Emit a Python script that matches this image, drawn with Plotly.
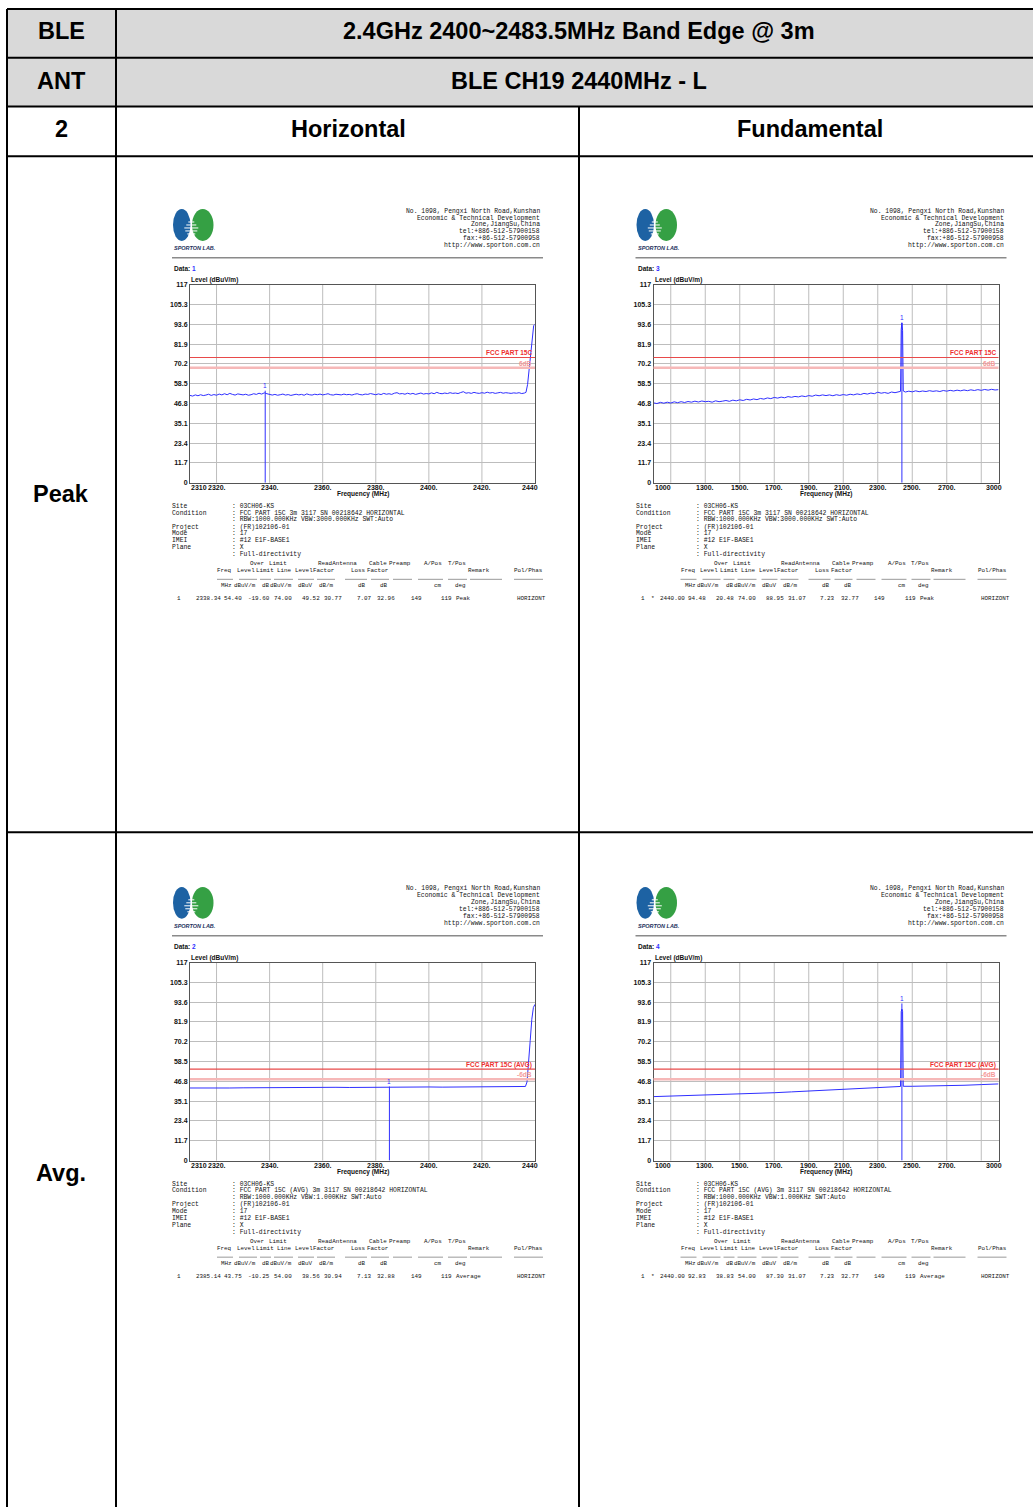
import plotly.graph_objects as go

W, H = 1033, 1510

# ---------------- table headings ----------------
band_title = "2.4GHz 2400~2483.5MHz Band Edge @ 3m"
channel_title = "BLE CH19 2440MHz - L"
corner_labels = ["BLE", "ANT", "2"]
column_titles = ["Horizontal", "Fundamental"]
row_titles = ["Peak", "Avg."]

# ---------------- axes ----------------
level_ticks = [0, 11.7, 23.4, 35.1, 46.8, 58.5, 70.2, 81.9, 93.6, 105.3, 117]
level_labels = ["0", "11.7", "23.4", "35.1", "46.8", "58.5", "70.2", "81.9", "93.6", "105.3", "117"]

edge_ticks = [2310, 2320, 2340, 2360, 2380, 2400, 2420, 2440]
edge_labels = ["2310", "2320.", "2340.", "2360.", "2380.", "2400.", "2420.", "2440"]
edge_grid = [2320, 2340, 2360, 2380, 2400, 2420]

fund_ticks = [1000, 1300, 1500, 1700, 1900, 2100, 2300, 2500, 2700, 3000]
fund_labels = ["1000", "1300.", "1500.", "1700.", "1900.", "2100.", "2300.", "2500.", "2700.", "3000"]
fund_grid = [1100, 1300, 1500, 1700, 1900, 2100, 2300, 2500, 2700, 2900]

# ---------------- traces ----------------
# Data 1 : band edge, peak
edge_peak_freq = list(range(2310, 2437)) + [2436.6, 2437.2, 2437.8, 2438.4, 2439.0, 2439.5, 2440.0]
edge_peak_level = [
    51.6, 51.2, 51.9, 51.4, 52.0, 51.5, 51.8, 52.3, 51.6, 52.1,
    51.7, 52.4, 51.9, 52.6, 52.0, 52.8, 52.2, 51.8, 52.5, 52.1,
    51.9, 52.3, 51.7, 52.0, 52.6, 52.2, 52.9, 52.4, 53.1, 52.6,
    52.3, 51.8, 52.2, 51.7, 52.0, 52.4, 51.8, 52.1, 51.6, 52.0,
    52.3, 51.9, 52.2, 51.7, 52.5, 52.0, 51.8, 52.3, 52.0, 52.4,
    51.9, 52.2, 52.6, 52.0, 51.8, 52.3, 52.1, 51.9, 52.4, 52.0,
    52.2, 51.8, 52.3, 52.6, 52.1, 51.9, 52.4, 52.2, 52.7, 52.3,
    52.0, 52.5, 52.1, 52.8, 52.3, 52.6, 52.2, 52.9, 53.2, 52.5,
    52.7, 52.3, 52.9, 52.4, 52.8, 52.2, 52.6, 53.0, 52.4, 52.7,
    52.5, 53.1, 52.6, 53.4, 52.8, 52.6, 53.0, 52.7, 53.2, 52.8,
    53.0, 52.7, 53.3, 53.8, 52.9, 53.2, 52.8, 53.4, 53.0, 52.8,
    53.2, 52.9, 53.5, 53.0, 53.3, 52.8, 53.1, 53.4, 52.9, 53.2,
    53.0, 52.8, 53.1, 52.9, 53.2, 52.7, 53.0,
    53.4, 58.0, 66.5, 76.0, 86.5, 92.8, 93.6,
]

# Data 2 : band edge, average
edge_avg_freq = list(range(2310, 2436, 5)) + [2436.4, 2437.0, 2437.6, 2438.2, 2438.8, 2439.4, 2440.0]
edge_avg_level = [
    42.9, 42.8, 43.0, 42.9, 43.0, 43.1, 43.0, 43.1, 43.2, 43.1,
    43.2, 43.3, 43.2, 43.3, 43.3, 43.4, 43.3, 43.4, 43.5, 43.4,
    43.5, 43.5, 43.6, 43.5, 43.6, 43.6,
    43.8, 46.5, 57.0, 71.0, 83.5, 90.5, 92.3,
]

# Data 3 : fundamental, peak
fund_peak_freq = list(range(1000, 2421, 20)) + [2432, 2436, 2440, 2444, 2448] + list(range(2460, 3001, 20))
fund_peak_level = [
    47.2, 46.8, 47.5, 47.0, 47.6, 47.1, 47.8, 47.3, 47.9, 47.4,
    48.0, 47.6, 48.2, 47.7, 48.3, 47.9, 48.1, 47.6, 48.4, 47.9,
    48.2, 48.6, 48.1, 48.8, 48.4, 49.0, 48.6, 49.3, 48.9, 49.5,
    49.1, 49.8, 49.4, 50.1, 49.7, 50.4, 50.0, 50.6, 50.2, 50.9,
    50.5, 51.0, 50.7, 51.3, 50.9, 51.5, 51.1, 51.8, 51.4, 51.9,
    51.5, 51.9, 51.4, 52.0, 51.6, 52.1, 51.7, 52.3, 51.9, 52.5,
    52.1, 52.8, 52.4, 53.0, 52.6, 53.5, 52.9, 53.3, 52.8, 53.6,
    53.2, 53.8,
    54.0, 90.5, 94.48, 90.0, 54.2,
    53.6, 54.1,
    53.7, 54.3, 53.8, 54.2, 53.9, 54.4, 54.0, 54.3, 53.9, 54.5,
    54.1, 54.6, 54.2, 54.7, 54.3, 54.8, 54.4, 54.9, 54.5, 55.0,
    54.6, 55.1, 54.7, 55.2, 54.8, 55.0,
]

# Data 4 : fundamental, average
fund_avg_freq = list(range(1000, 2401, 100)) + [2432, 2436, 2440, 2444, 2448] + list(range(2500, 3001, 100))
fund_avg_level = [
    37.8, 38.1, 38.3, 38.6, 38.8, 39.2, 39.6, 40.1, 40.6, 41.1, 41.5, 41.9, 42.4, 42.9, 43.5,
    43.8, 88.0, 89.5, 88.2, 43.9,
    43.9, 44.0, 44.2, 44.5, 44.9, 45.3,
]

# markers (freq, level)
marker_1 = (2338.34, 54.40)
marker_2 = (2385.14, 43.75)
marker_3 = (2440.00, 94.48)
marker_4 = (2440.00, 92.83)

peak_limit = 74.0
avg_limit = 54.0

# ---------------- report text ----------------
address_lines = [
    "No. 1098, Pengxi North Road,Kunshan",
    "Economic & Technical Development",
    "Zone,JiangSu,China",
    "tel:+886-512-57900158",
    "fax:+86-512-57900958",
    "http://www.sporton.com.cn",
]
info_labels = ["Site", "Condition", "", "Project", "Mode", "IMEI", "Plane", ""]
peak_info = [": 03CH06-KS", ": FCC PART 15C 3m 3117 SN 00218642 HORIZONTAL",
             ": RBW:1000.000KHz VBW:3000.000KHz SWT:Auto", ": (FR)102106-01",
             ": 17", ": #12 E1F-BASE1", ": X", ": Full-directivity"]
avg_info = [": 03CH06-KS", ": FCC PART 15C (AVG) 3m 3117 SN 00218642 HORIZONTAL",
            ": RBW:1000.000KHz VBW:1.000KHz SWT:Auto", ": (FR)102106-01",
            ": 17", ": #12 E1F-BASE1", ": X", ": Full-directivity"]
head_row1 = ["Over", "Limit", "ReadAntenna", "Cable", "Preamp", "A/Pos", "T/Pos"]
head_row2 = ["Freq", "Level", "Limit", "Line", "Level", "Factor", "Loss", "Factor", "Remark", "Pol/Phas"]
unit_row = ["MHz", "dBuV/m", "dB", "dBuV/m", "dBuV", "dB/m", "dB", "dB", "cm", "deg"]
result_1 = ["1", "", "2338.34", "54.40", "-19.60", "74.00", "49.52", "30.77", "7.07", "32.96", "149", "119", "Peak", "HORIZONT"]
result_2 = ["1", "", "2385.14", "43.75", "-10.25", "54.00", "38.56", "30.94", "7.13", "32.88", "149", "119", "Average", "HORIZONT"]
result_3 = ["1", "*", "2440.00", "94.48", "20.48", "74.00", "88.95", "31.07", "7.23", "32.77", "149", "119", "Peak", "HORIZONT"]
result_4 = ["1", "*", "2440.00", "92.83", "38.83", "54.00", "87.30", "31.07", "7.23", "32.77", "149", "119", "Average", "HORIZONT"]

# ---------------- styling ----------------
MONO = "Liberation Mono"
SANS = "Liberation Sans"
BLUE = "#2f2fff"
INK = "#111111"

fig = go.Figure()
shapes = []
notes = []


def px(x):
    return x / W


def py(y):
    return 1 - y / H


def text(x, y, s, size=6.4, color=INK, xanchor="left", family=MONO, bold=False):
    notes.append(dict(
        x=px(x), y=py(y), xref="paper", yref="paper", text=f"<b>{s}</b>" if bold else s,
        showarrow=False, xanchor=xanchor, yanchor="middle",
        font=dict(family=family, size=size, color=color), borderpad=0,
    ))


def hline(x0, x1, y, color="black", width=2):
    shapes.append(dict(type="line", xref="paper", yref="paper", x0=px(x0), x1=px(x1),
                       y0=py(y), y1=py(y), line=dict(color=color, width=width)))


def vline(x, y0, y1, color="black", width=2):
    shapes.append(dict(type="line", xref="paper", yref="paper", x0=px(x), x1=px(x),
                       y0=py(y0), y1=py(y1), line=dict(color=color, width=width)))


# ---------------- outer table ----------------
shapes.append(dict(type="rect", xref="paper", yref="paper", x0=px(7), x1=1, y0=py(103), y1=py(5),
                   fillcolor="#d9d9d9", line=dict(width=0), layer="below"))
for yy in [5, 54, 103, 153, 832]:
    hline(7, W, yy)
vline(7, 5, H)
vline(116, 5, H)
vline(579, 103, H)

TF = 23.5
for lab, yy in zip(corner_labels, [27.5, 77, 126]):
    text(61, yy, lab, size=TF, color="black", xanchor="center", family=SANS, bold=True)
text(579, 27.5, band_title, size=TF, color="black", xanchor="center", family=SANS, bold=True)
text(579, 77, channel_title, size=TF, color="black", xanchor="center", family=SANS, bold=True)
text(348, 126, column_titles[0], size=TF, color="black", xanchor="center", family=SANS, bold=True)
text(810, 126, column_titles[1], size=TF, color="black", xanchor="center", family=SANS, bold=True)
text(61, 492.5, row_titles[0], size=TF, color="black", xanchor="center", family=SANS, bold=True)
text(61, 1174, row_titles[1], size=TF, color="black", xanchor="center", family=SANS, bold=True)

# ---------------- the four scans ----------------
panels = [
    dict(dx=0, dy=0, freq=edge_peak_freq, level=edge_peak_level, rng=[2310, 2440],
         ticks=edge_ticks, labels=edge_labels, grid=edge_grid, no="1", marker=marker_1,
         limit=peak_limit, lname="FCC PART 15C", mname="6dB", info=peak_info, row=result_1),
    dict(dx=463.5, dy=0, freq=fund_peak_freq, level=fund_peak_level, rng=[1000, 3000],
         ticks=fund_ticks, labels=fund_labels, grid=fund_grid, no="3", marker=marker_3,
         limit=peak_limit, lname="FCC PART 15C", mname="6dB", info=peak_info, row=result_3),
    dict(dx=0, dy=681, freq=edge_avg_freq, level=edge_avg_level, rng=[2310, 2440],
         ticks=edge_ticks, labels=edge_labels, grid=edge_grid, no="2", marker=marker_2,
         limit=avg_limit, lname="FCC PART 15C (AVG)", mname="-6dB", info=avg_info, row=result_2),
    dict(dx=463.5, dy=681, freq=fund_avg_freq, level=fund_avg_level, rng=[1000, 3000],
         ticks=fund_ticks, labels=fund_labels, grid=fund_grid, no="4", marker=marker_4,
         limit=avg_limit, lname="FCC PART 15C (AVG)", mname="-6dB", info=avg_info, row=result_4),
]

# column positions inside one report block (pixels from block left edge)
hdr1_right = [100, 123.3, 192.7, 222.7, 246.7, 278.3, 301.7]
hdr2_right = [68.3, 90.7, 110, 128.3, 149, 170, 202, 224]
hdr2_left = [301.7, 348.3]
unit_right = [68.3, 91.7, 106, 128.3, 149, 170, 202, 224, 278.3, 301.7]
row_right = [57.3, 78.3, 106, 128.3, 156, 178.3, 207.7, 231, 257.7, 288.3]
row_left = [290, 351]
dash_runs = [(52, 68), (74, 92), (95, 106), (109, 128), (133, 149), (152, 170), (180, 202),
             (206, 224), (228, 247), (253, 278), (283, 302), (305, 337), (349, 378)]
info_y = [505, 511.5, 518, 525.5, 532, 539, 546, 553.5]
TS = 5.9

for i, p in enumerate(panels, start=1):
    dx, dy = p["dx"], p["dy"]
    bx = 165 + dx
    x0, x1, y0, y1 = 190 + dx, 535 + dx, 282 + dy, 481 + dy
    xr = "x" if i == 1 else f"x{i}"
    yr = "y" if i == 1 else f"y{i}"
    xa = "xaxis" if i == 1 else f"xaxis{i}"
    ya = "yaxis" if i == 1 else f"yaxis{i}"

    fig.update_layout(**{
        xa: dict(domain=[px(x0), px(x1)], range=p["rng"], anchor=yr, showticklabels=False,
                 showgrid=False, zeroline=False, showline=True, mirror=True,
                 linecolor="#555555", linewidth=1, ticks=""),
        ya: dict(domain=[py(y1), py(y0)], range=[0, 117], anchor=xr, tickvals=level_ticks,
                 ticktext=level_labels, showgrid=True, gridcolor="#bdbdbd", gridwidth=1,
                 zeroline=False, showline=True, mirror=True, linecolor="#555555", linewidth=1,
                 ticks="", ticklen=0,
                 tickfont=dict(family=SANS, size=7, color=INK, weight="bold")),
    })

    # frequency tick labels, placed just under the frame
    nt = len(p["ticks"])
    for k, (v, lab) in enumerate(zip(p["ticks"], p["labels"])):
        anchor = "left" if k == 0 else ("right" if k == nt - 1 else "center")
        notes.append(dict(x=v, y=py(485.5 + dy), xref=xr, yref="paper", text=lab, showarrow=False,
                          xanchor=anchor, yanchor="middle", borderpad=0,
                          xshift=4 if k == nt - 1 else 0,
                          font=dict(family=SANS, size=7, color=INK, weight="bold")))

    for g in p["grid"]:
        shapes.append(dict(type="line", xref=xr, yref=f"{yr} domain", x0=g, x1=g, y0=0, y1=1,
                           line=dict(color="#bdbdbd", width=1), layer="below"))

    # limit and margin lines
    shapes.append(dict(type="line", xref=f"{xr} domain", yref=yr, x0=0, x1=1,
                       y0=p["limit"] - 6, y1=p["limit"] - 6, line=dict(color="#f6b8b8", width=2.5)))
    shapes.append(dict(type="line", xref=f"{xr} domain", yref=yr, x0=0, x1=1,
                       y0=p["limit"], y1=p["limit"], line=dict(color="#e84a4a", width=1.2)))
    notes.append(dict(x=0.995, y=p["limit"] + 2.7, xref=f"{xr} domain", yref=yr, text=p["lname"],
                      showarrow=False, xanchor="right", yanchor="middle", borderpad=0,
                      font=dict(family=SANS, size=6.5, color="#ee3030", weight="bold")))
    notes.append(dict(x=0.995, y=p["limit"] - 6 + 2.7, xref=f"{xr} domain", yref=yr, text=p["mname"],
                      showarrow=False, xanchor="right", yanchor="middle", borderpad=0,
                      font=dict(family=SANS, size=6.5, color="#f49a9a", weight="bold")))

    fig.add_trace(go.Scatter(x=p["freq"], y=p["level"], xaxis=xr, yaxis=yr, mode="lines",
                             line=dict(color=BLUE, width=1), showlegend=False, hoverinfo="skip"))
    mf, ml = p["marker"]
    fig.add_trace(go.Scatter(x=[mf, mf], y=[0, ml], xaxis=xr, yaxis=yr, mode="lines",
                             line=dict(color=BLUE, width=1), showlegend=False, hoverinfo="skip"))
    notes.append(dict(x=mf, y=ml + 3.0, xref=xr, yref=yr, text="1", showarrow=False,
                      xanchor="center", yanchor="middle", borderpad=0,
                      font=dict(family=SANS, size=6.5, color=BLUE)))

    # logo
    shapes.append(dict(type="circle", xref="paper", yref="paper", x0=px(173 + dx), x1=px(190.5 + dx),
                       y0=py(238 + dy), y1=py(206 + dy), fillcolor="#1d62a3", line=dict(width=0)))
    shapes.append(dict(type="circle", xref="paper", yref="paper", x0=px(192 + dx), x1=px(213.5 + dx),
                       y0=py(238 + dy), y1=py(206 + dy), fillcolor="#35a044", line=dict(width=0)))
    for k, half in enumerate([3, 5, 7, 6, 4]):
        yy = 219 + 3 * k + dy
        hline(191.3 + dx - half, 191.3 + dx + half, yy, color="white", width=1)
    notes.append(dict(x=px(173 + dx), y=py(245 + dy), xref="paper", yref="paper",
                      text="SPORTON LAB.", showarrow=False, xanchor="left", yanchor="middle",
                      borderpad=0, font=dict(family=SANS, size=5.5, color="#1c2f5c",
                                             weight="bold", style="italic")))

    for k, line in enumerate(address_lines):
        text(541 + dx, 208 + 7 * k + dy, line, size=6.4, xanchor="right")
    hline(172 + dx, 543 + dx, 255 + dy, color="#8a8a8a", width=1.5)

    text(173 + dx, 266 + dy, f"Data: <span style='color:{BLUE}'>{p['no']}</span>",
         size=6.5, family=SANS, bold=True)
    text(190 + dx, 277 + dy, "Level (dBuV/m)", size=6.5, family=SANS, bold=True)
    text((x0 + x1) / 2, 492.5 + dy, "Frequency (MHz)", size=6.5, xanchor="center", family=SANS, bold=True)

    # report text block
    for lab, val, yy in zip(info_labels, p["info"], info_y):
        if lab:
            text(bx + 6, yy + dy, lab)
        text(bx + 66, yy + dy, val)
    for tok, xx in zip(head_row1, hdr1_right):
        text(bx + xx, 562 + dy, tok, size=TS, xanchor="right")
    for tok, xx in zip(head_row2[:8], hdr2_right):
        text(bx + xx, 569 + dy, tok, size=TS, xanchor="right")
    for tok, xx in zip(head_row2[8:], hdr2_left):
        text(bx + xx, 569 + dy, tok, size=TS)
    for a, b in dash_runs:
        hline(bx + a, bx + b, 578 + dy, color="#9a9a9a", width=1)
    for tok, xx in zip(unit_row, unit_right):
        text(bx + xx, 584 + dy, tok, size=TS, xanchor="right")
    row = p["row"]
    text(bx + 14, 597 + dy, row[0], size=TS, xanchor="center")
    if row[1]:
        text(bx + 24, 597 + dy, row[1], size=TS, xanchor="center")
    for tok, xx in zip(row[2:12], row_right):
        text(bx + xx, 597 + dy, tok, size=TS, xanchor="right")
    for tok, xx in zip(row[12:], row_left):
        text(bx + xx, 597 + dy, tok, size=TS)

fig.update_layout(
    width=W, height=H, autosize=False,
    margin=dict(l=0, r=0, t=0, b=0),
    paper_bgcolor="white", plot_bgcolor="white",
    showlegend=False,
    shapes=shapes, annotations=notes,
)

# let the figure sit flush in the window, no toolbar
fig.write_html("out.html", config={"displayModeBar": False},
               post_script="document.body.style.margin='0';document.body.style.padding='0';")
